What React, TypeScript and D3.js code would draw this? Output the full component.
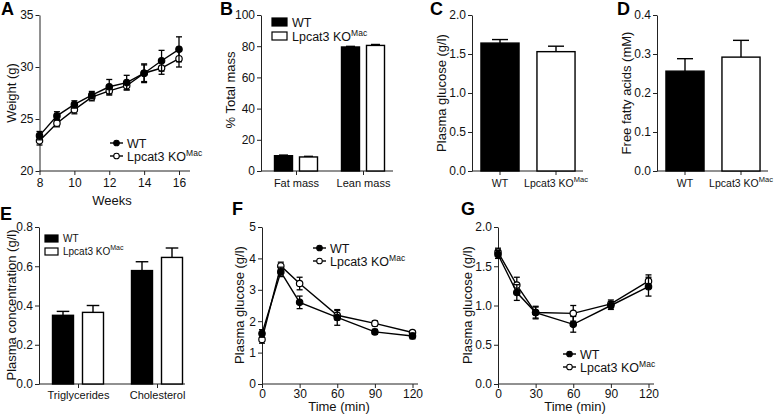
import React, { useEffect, useRef } from 'react'
import * as d3 from 'd3'

const FONT = "'Liberation Sans', Arial, Helvetica, sans-serif"

// groups
const groups = ['WT', 'Lpcat3 KO']

// A: body weight
const weeks = [8, 9, 10, 11, 12, 13, 14, 15, 16]
const weightWT = [23.4, 25.3, 26.4, 27.3, 28.1, 28.5, 29.4, 30.6, 31.7]
const weightWTErr = [0.4, 0.4, 0.35, 0.35, 0.7, 0.7, 0.9, 1.0, 1.2]
const weightKO = [22.9, 24.6, 25.9, 27.1, 27.7, 28.2, 29.4, 29.9, 30.8]
const weightKOErr = [0.4, 0.35, 0.4, 0.35, 0.4, 0.4, 0.8, 0.6, 0.8]

// B: body composition
const massCats = ['Fat mass', 'Lean mass']
const massWT = [9.8, 79.5]
const massWTErr = [0.4, 0.4]
const massKO = [9.0, 80.5]
const massKOErr = [0.4, 0.6]

// C: fasting glucose
const glucose = [1.64, 1.53]
const glucoseErr = [0.045, 0.07]

// D: free fatty acids
const ffa = [0.256, 0.292]
const ffaErr = [0.032, 0.043]

// E: plasma lipids
const lipidCats = ['Triglycerides', 'Cholesterol']
const lipidWT = [0.35, 0.578]
const lipidWTErr = [0.02, 0.045]
const lipidKO = [0.365, 0.645]
const lipidKOErr = [0.035, 0.048]

// F: GTT
const times = [0, 15, 30, 60, 90, 120]
const gttWT = [1.61, 3.57, 2.6, 2.12, 1.66, 1.53]
const gttWTErr = [0.12, 0.15, 0.2, 0.25, 0.08, 0.09]
const gttKO = [1.42, 3.76, 3.2, 2.19, 1.93, 1.64]
const gttKOErr = [0.12, 0.12, 0.2, 0.15, 0.08, 0.05]

// G: ITT
const ittWT = [1.65, 1.165, 0.91, 0.76, 1.0, 1.24]
const ittWTErr = [0.05, 0.1, 0.07, 0.1, 0.05, 0.12]
const ittKO = [1.68, 1.26, 0.91, 0.9, 1.02, 1.31]
const ittKOErr = [0.05, 0.1, 0.08, 0.1, 0.05, 0.08]

const TICK_FS = 12
const CAT_FS = 11
const TITLE_FS = 13

function groupText(sel: any, name: string, supFs = 8.5) {
  sel.text(name)
  if (name === 'Lpcat3 KO') sel.append('tspan').attr('dy', -5).attr('font-size', supFs).text('Mac')
}

function styleAxis(g: any, fs = TICK_FS) {
  g.attr('font-family', FONT).attr('font-size', fs)
  g.selectAll('path,line').attr('stroke', '#222')
  g.selectAll('text').attr('fill', '#111')
}

function leftAxis(svg: any, y: any, x: number, ticks: number[], fmt: any) {
  const g = svg.append('g').attr('transform', `translate(${x},0)`)
    .call(d3.axisLeft(y).tickValues(ticks).tickFormat(fmt).tickSize(4).tickPadding(2).tickSizeOuter(0))
  styleAxis(g)
}

function bottomLine(svg: any, x0: number, x1: number, y: number) {
  svg.append('line').attr('x1', x0).attr('x2', x1).attr('y1', y).attr('y2', y).attr('stroke', '#222')
}

function bottomAxis(svg: any, x: any, y: number, ticks: any[], fmt: any, end: number, start: number, labelY: number, fs = TICK_FS) {
  const g = svg.append('g').attr('transform', `translate(0,${y})`)
    .call(d3.axisBottom(x).tickValues(ticks).tickFormat(fmt).tickSize(4).tickPadding(3).tickSizeOuter(0))
  g.select('.domain').remove()
  styleAxis(g, fs)
  g.selectAll('text').attr('dy', null).attr('y', labelY)
  bottomLine(svg, start, end, y)
  return g
}

function yTitle(svg: any, text: string, x: number, y: number) {
  svg.append('text').attr('transform', `translate(${x},${y}) rotate(-90)`)
    .attr('text-anchor', 'middle').attr('font-size', TITLE_FS).attr('fill', '#111').text(text)
}

function xTitle(svg: any, text: string, x: number, y: number) {
  svg.append('text').attr('x', x).attr('y', y)
    .attr('text-anchor', 'middle').attr('font-size', TITLE_FS).attr('fill', '#111').text(text)
}

function letter(svg: any, t: string, x: number, y: number) {
  svg.append('text').attr('x', x).attr('y', y).attr('font-size', 18).attr('font-weight', 'bold').text(t)
}

function lineSeries(svg: any, x: any, y: any, xs: number[], vals: number[], errs: number[], filled: boolean) {
  const g = svg.append('g')
  xs.forEach((t, i) => {
    const cx = x(t)
    const lo = y(vals[i] - errs[i]), hi = y(vals[i] + errs[i])
    g.append('line').attr('x1', cx).attr('x2', cx).attr('y1', lo).attr('y2', hi).attr('stroke', '#000').attr('stroke-width', 1.3)
    ;[lo, hi].forEach(v => g.append('line').attr('x1', cx - 3).attr('x2', cx + 3).attr('y1', v).attr('y2', v).attr('stroke', '#000').attr('stroke-width', 1.3))
  })
  const line = d3.line<number>().x((d, i) => x(xs[i])).y(d => y(d))
  g.append('path').attr('d', line(vals)).attr('fill', 'none').attr('stroke', '#000').attr('stroke-width', 1.4)
  g.selectAll('circle.m').data(vals).join('circle')
    .attr('cx', (d: number, i: number) => x(xs[i])).attr('cy', (d: number) => y(d)).attr('r', 3.2)
    .attr('fill', filled ? '#000' : '#fff').attr('stroke', '#000').attr('stroke-width', 1.2)
}

function lineLegend(svg: any, x: number, y: number, fs: number) {
  groups.forEach((name, i) => {
    const ly = y + i * 13
    svg.append('line').attr('x1', x).attr('x2', x + 13).attr('y1', ly).attr('y2', ly).attr('stroke', '#000').attr('stroke-width', 1.4)
    svg.append('circle').attr('cx', x + 6.5).attr('cy', ly).attr('r', 2.8).attr('fill', i === 0 ? '#000' : '#fff').attr('stroke', '#000').attr('stroke-width', 1.1)
    const t = svg.append('text').attr('x', x + 17).attr('y', ly + 4.5).attr('font-size', fs).attr('fill', '#111')
    groupText(t, name)
  })
}

function barLegend(svg: any, x: number, y: number, w: number, h: number, gap: number, fs: number, supFs: number) {
  groups.forEach((name, i) => {
    const ly = y + i * gap
    svg.append('rect').attr('x', x).attr('y', ly).attr('width', w).attr('height', h)
      .attr('fill', i === 0 ? '#000' : '#fff').attr('stroke', '#000').attr('stroke-width', 1.2)
    const t = svg.append('text').attr('x', x + w + 5).attr('y', ly + h / 2 + fs * 0.36).attr('font-size', fs).attr('fill', '#111')
    groupText(t, name, supFs)
  })
}

function bar(svg: any, x: number, w: number, y: any, v: number, e: number, filled: boolean, capW: number) {
  const top = y(v)
  svg.append('line').attr('x1', x + w / 2).attr('x2', x + w / 2).attr('y1', top).attr('y2', y(v + e)).attr('stroke', '#000').attr('stroke-width', 1.4)
  svg.append('line').attr('x1', x + w / 2 - capW / 2).attr('x2', x + w / 2 + capW / 2).attr('y1', y(v + e)).attr('y2', y(v + e)).attr('stroke', '#000').attr('stroke-width', 1.4)
  svg.append('rect').attr('x', x).attr('y', top).attr('width', w).attr('height', y(0) - top)
    .attr('fill', filled ? '#000' : '#fff').attr('stroke', '#000').attr('stroke-width', 1.4)
}

export default function App() {
  const ref = useRef<SVGSVGElement>(null)

  useEffect(() => {
    const svg = d3.select(ref.current)
    svg.selectAll('*').remove()

    // ---- A
    {
      const x = d3.scaleLinear().domain([8, 16]).range([39.5, 179])
      const y = d3.scaleLinear().domain([20, 35]).range([171, 15])
      leftAxis(svg, y, 39.5, [20, 25, 30, 35], d3.format('d'))
      bottomAxis(svg, x, 171, [8, 10, 12, 14, 16], d3.format('d'), 190, 39.5, 16)
      lineSeries(svg, x, y, weeks, weightKO, weightKOErr, false)
      lineSeries(svg, x, y, weeks, weightWT, weightWTErr, true)
      lineLegend(svg, 110, 143, 12.5)
      yTitle(svg, 'Weight (g)', 16, 93)
      xTitle(svg, 'Weeks', 112, 205)
      letter(svg, 'A', 1, 15)
    }

    // ---- B
    {
      const y = d3.scaleLinear().domain([0, 100]).range([171, 15])
      const x0 = d3.scalePoint<string>().domain(massCats).range([296, 363])
      const x1 = d3.scaleBand<string>().domain(groups).range([-21.5, 21.5]).paddingInner(0.28)
      leftAxis(svg, y, 261, [0, 20, 40, 60, 80, 100], d3.format('d'))
      bottomAxis(svg, x0, 171, massCats, (d: string) => d, 393, 261, 16, CAT_FS)
      const bw = x1.bandwidth()
      massCats.forEach((c, i) => {
        bar(svg, x0(c)! + x1('WT')!, bw, y, massWT[i], massWTErr[i], true, bw * 0.5)
        bar(svg, x0(c)! + x1('Lpcat3 KO')!, bw, y, massKO[i], massKOErr[i], false, bw * 0.5)
      })
      barLegend(svg, 272, 18, 15, 8, 14, 12.5, 8.5)
      yTitle(svg, '% Total mass', 235, 90)
      letter(svg, 'B', 220, 15)
    }

    // ---- C & D
    const single = (ax: number, vals: number[], errs: number[], max: number, ticks: number[], title: string, tx: number, L: string, lx: number) => {
      const y = d3.scaleLinear().domain([0, max]).range([171, 15])
      const x = d3.scaleBand<string>().domain(groups).range([ax, ax + 112]).paddingInner(0.32).paddingOuter(0.16)
      leftAxis(svg, y, ax, ticks, d3.format('.1f'))
      const bw = x.bandwidth()
      const g = bottomAxis(svg, x, 171, groups, (d: string) => d, ax + 111, ax, 16, 10.5)
      g.selectAll('text').each(function (this: any, d: any) { groupText(d3.select(this), d, 7.5) })
      groups.forEach((gname, i) => {
        bar(svg, x(gname)!, bw, y, vals[i], errs[i], i === 0, bw * 0.42)
      })
      yTitle(svg, title, tx, 93)
      letter(svg, L, lx, 15)
    }
    single(472, glucose, glucoseErr, 2, [0, 0.5, 1, 1.5, 2], 'Plasma glucose (g/l)', 446, 'C', 430)
    single(657, ffa, ffaErr, 0.4, [0, 0.1, 0.2, 0.3, 0.4], 'Free fatty acids (mM)', 631, 'D', 617)

    // ---- E
    {
      const y = d3.scaleLinear().domain([0, 0.8]).range([384, 227])
      const x0 = d3.scalePoint<string>().domain(lipidCats).range([78, 157])
      const x1 = d3.scaleBand<string>().domain(groups).range([-25.5, 25.5]).paddingInner(0.3)
      leftAxis(svg, y, 39, [0, 0.2, 0.4, 0.6, 0.8], d3.format('.1f'))
      bottomAxis(svg, x0, 384, lipidCats, (d: string) => d, 185, 39, 15, CAT_FS)
      const bw = x1.bandwidth()
      lipidCats.forEach((c, i) => {
        bar(svg, x0(c)! + x1('WT')!, bw, y, lipidWT[i], lipidWTErr[i], true, bw * 0.6)
        bar(svg, x0(c)! + x1('Lpcat3 KO')!, bw, y, lipidKO[i], lipidKOErr[i], false, bw * 0.6)
      })
      barLegend(svg, 45, 235, 13, 7, 13, 10, 7)
      yTitle(svg, 'Plasma concentration (g/l)', 16, 305)
      letter(svg, 'E', 0, 220)
    }

    // ---- F & G
    const curve = (ax: number, wt: number[], wtE: number[], ko: number[], koE: number[], max: number, ticks: number[], fmt: any, tx: number, L: string, lx: number, legX: number, legY: number) => {
      const x = d3.scaleLinear().domain([0, 120]).range([ax, ax + 150.5])
      const y = d3.scaleLinear().domain([0, max]).range([384, 227])
      leftAxis(svg, y, ax, ticks, fmt)
      bottomAxis(svg, x, 384, [0, 30, 60, 90, 120], d3.format('d'), ax + 156, ax, 13.5)
      lineSeries(svg, x, y, times, ko, koE, false)
      lineSeries(svg, x, y, times, wt, wtE, true)
      lineLegend(svg, legX, legY, 12.5)
      yTitle(svg, 'Plasma glucose (g/l)', tx, 305)
      xTitle(svg, 'Time (min)', ax + 77, 411)
      letter(svg, L, lx, 215)
    }
    curve(262, gttWT, gttWTErr, gttKO, gttKOErr, 5, [0, 1, 2, 3, 4, 5], d3.format('d'), 244, 'F', 232, 313, 248)
    curve(498, ittWT, ittWTErr, ittKO, ittKOErr, 2, [0, 0.5, 1, 1.5, 2], d3.format('.1f'), 472, 'G', 461, 563, 354)
  }, [])

  return (
    <svg ref={ref} width={775} height={416} fontFamily={FONT}
      style={{ position: 'absolute', left: 0, top: 0, background: '#fff' }} />
  )
}
